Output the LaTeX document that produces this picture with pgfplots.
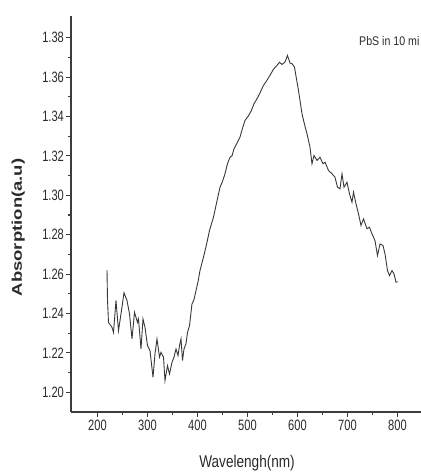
\documentclass[border=0pt]{standalone}
\usepackage{pgfplots}
\pgfplotsset{compat=1.18}
\usepackage{graphicx}
\usepackage{fontspec}
\setmainfont{Liberation Sans}
\definecolor{axisgray}{HTML}{3C3C3C}
\definecolor{curvegray}{HTML}{383838}
\definecolor{textgray}{HTML}{2A2A2A}

\begin{document}
\begin{tikzpicture}
\begin{axis}[
  scale only axis,
  width=350pt, height=396pt,
  xmin=147, xmax=847,
  ymin=1.19, ymax=1.391,
  axis x line*=bottom, axis y line*=left,
  axis line style={axisgray, line width=1.5pt, -},
  xtick={200,300,...,800},
  ytick={1.20,1.22,...,1.381},
  minor x tick num=1, minor y tick num=1,
  tick align=outside,
  major tick length=4.5pt, minor tick length=3pt,
  every tick/.style={axisgray, line width=1.1pt},
  /pgf/number format/assume math mode=true,
  yticklabel style={/pgf/number format/fixed, /pgf/number format/fixed zerofill, /pgf/number format/precision=2},
  xticklabel style={/pgf/number format/1000 sep={}},
  tick label style={font=\fontsize{15}{17}\selectfont, text=textgray, xscale=0.74},
  xlabel={Wavelengh(nm)},
  ylabel={\scalebox{1}[0.76]{\bfseries Absorption(a.u)}},
  xlabel style={at={(axis description cs:0.503,-0.130)}, anchor=center,
    font=\fontsize{17}{19}\selectfont, text=textgray, xscale=0.8},
  ylabel style={at={(axis description cs:-0.151,0.466)}, anchor=center,
    font=\fontsize{18.5}{20}\selectfont, text=textgray},
  clip=false,
]
\addplot[curvegray, line width=0.9pt] coordinates {
(219,1.2620) (220,1.2470) (222,1.2355) (229,1.2330) (232,1.2304)
(237,1.2466) (242,1.2313) (247,1.2398) (253,1.2505) (259,1.2466)
(264,1.2398) (269,1.2271) (274,1.2406) (280,1.2355) (282,1.2372)
(287,1.2220) (291,1.2372) (295,1.2330) (300,1.2237) (305,1.2211)
(311,1.2076) (315,1.2195) (319,1.2271) (324,1.2178) (327,1.2203)
(332,1.2178) (335,1.2059) (340,1.2135) (344,1.2093) (349,1.2152)
(353,1.2178) (357,1.2220) (361,1.2186) (364,1.2237) (367,1.2271)
(370,1.2161) (373,1.2220) (377,1.2246) (380,1.2304) (384,1.2338)
(389,1.2449) (393,1.2470) (397,1.2516) (401,1.2560) (405,1.2618)
(412,1.2686) (418,1.2750) (424,1.2821) (432,1.2889) (438,1.2960)
(445,1.3041) (450,1.3070) (455,1.3109) (460,1.3160) (465,1.3193)
(469,1.3200) (473,1.3236) (479,1.3265) (485,1.3295) (490,1.3340)
(495,1.3380) (501,1.3400) (508,1.3431) (513,1.3465) (519,1.3490)
(525,1.3520) (532,1.3558) (538,1.3580) (545,1.3609) (552,1.3640)
(559,1.3659) (564,1.3675) (569,1.3664) (575,1.3676) (580,1.3710)
(585,1.3671) (589,1.3668) (594,1.3651) (598,1.3590) (602,1.3532)
(609,1.3414) (614,1.3360) (619,1.3312) (625,1.3244) (629,1.3160)
(633,1.3202) (639,1.3177) (645,1.3193) (651,1.3160) (655,1.3168)
(662,1.3126) (669,1.3109) (675,1.3092) (680,1.3041) (685,1.3033)
(689,1.3109) (693,1.3041) (699,1.3066) (704,1.3007) (709,1.2965)
(712,1.3016) (717,1.2957) (722,1.2906) (727,1.2847) (732,1.2880)
(739,1.2830) (744,1.2838) (749,1.2804) (755,1.2770) (760,1.2694)
(765,1.2753) (771,1.2745) (775,1.2703) (780,1.2618) (784,1.2592)
(789,1.2618) (793,1.2601) (797,1.2559) (800,1.2562)
};
\node[anchor=west, inner sep=0pt, font=\fontsize{12.5}{14}\selectfont, text=textgray, xscale=0.85]
  at (axis description cs:0.823,0.937) {PbS in 10 mi};
\coordinate (sw) at (rel axis cs:0,0);
\end{axis}
\pgfresetboundingbox
\path ([shift={(-71pt,-63pt)}]sw) rectangle ++(421pt,475pt);
\end{tikzpicture}
\end{document}
